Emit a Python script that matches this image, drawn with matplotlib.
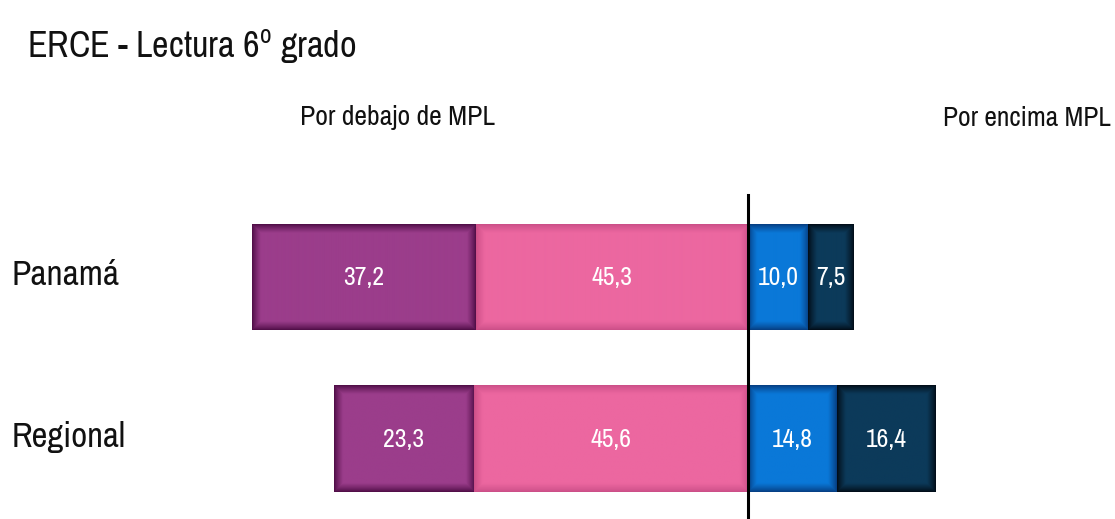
import matplotlib
matplotlib.use("Agg")
import matplotlib.pyplot as plt
from matplotlib import font_manager as fm
from matplotlib.colors import to_rgb
import numpy as np

# ---------------- data ----------------
categories = ["Panamá", "Regional"]
nivel1 = [37.2, 23.3]   # far left (dark purple)
nivel2 = [45.3, 45.6]   # near left (pink)
nivel3 = [10.0, 14.8]   # near right (blue)
nivel4 = [7.5, 16.4]    # far right (navy)
value_labels = [["37,2", "45,3", "10,0", "7,5"], ["23,3", "45,6", "14,8", "16,4"]]
title = r"ERCE - Lectura 6$^{\mathrm{o}}$ grado"
left_header = "Por debajo de MPL"
right_header = "Por encima MPL"

# ---------------- font choice ----------------
FONT = "Liberation Sans"
STRETCH = "normal"
for f in fm.fontManager.ttflist:
    if ("Narrow" in f.name or "Condensed" in f.name):
        FONT = f.name
        break
else:
    for f in fm.fontManager.ttflist:
        if f.name == "DejaVu Sans" and str(f.stretch) in ("condensed", "semi-condensed"):
            FONT = "DejaVu Sans"
            STRETCH = "condensed"
            break
plt.rcParams['font.family'] = [FONT, 'DejaVu Sans']
plt.rcParams['font.stretch'] = STRETCH
plt.rcParams['mathtext.fontset'] = 'custom'
plt.rcParams['mathtext.rm'] = FONT

W, H = 1115, 519
fig = plt.figure(figsize=(W / 100, H / 100), dpi=100)
ax = fig.add_axes([0, 0, 1, 1])
scale = 6.01
zero_px = 748
ax.set_xlim(-zero_px / scale, (W - zero_px) / scale)
row_px = [277, 439]
gap = row_px[1] - row_px[0]
ax.set_ylim((H - row_px[0]) / gap, -row_px[0] / gap)
ax.axis("off")
renderer = fig.canvas.get_renderer()


def fit(t, target_w, max_fs=60):
    t.set_fontsize(20)
    w = t.get_window_extent(renderer).width
    fs = min(20 * target_w / w, max_fs)
    t.set_fontsize(fs)
    return fs


centers = [("#9b3d8b", "#4a0a42"), ("#ec67a0", "#c94d86"),
           ("#0a78d8", "#063a7c"), ("#0c3a5a", "#010a14")]

y = np.arange(len(categories))
h = 106 / gap
n1 = np.array(nivel1); n2 = np.array(nivel2); n3 = np.array(nivel3); n4 = np.array(nivel4)
segs = [(-(n1 + n2), n1), (-n2, n2), (np.zeros_like(n3), n3), (n3, n4)]

probe = ax.text(0, 0, "37,2", fontweight="bold")
vfs = fit(probe, 41)
probe.remove()

for k, (left, width) in enumerate(segs):
    bars = ax.barh(y, width, left=left, height=h, color=centers[k][0], lw=0)
    c_in = np.array(to_rgb(centers[k][0]))
    c_out = np.array(to_rgb(centers[k][1]))
    for i, b in enumerate(bars):
        x0, y0 = b.get_x(), b.get_y()
        bw, bh = b.get_width(), b.get_height()
        nx = max(int(bw * scale), 2)
        ny = max(int(bh * gap), 2)
        px = np.arange(nx) + 0.5
        py = np.arange(ny) + 0.5
        dx = np.minimum(px, nx - px)
        dy = np.minimum(py, ny - py)
        d = np.minimum(dx[None, :], dy[:, None])
        tt = np.clip(d / 9.0, 0, 1) ** 0.8
        img = c_out[None, None, :] + (c_in - c_out)[None, None, :] * tt[:, :, None]
        ax.imshow(img, extent=(x0, x0 + bw, y0 + bh, y0), aspect="auto",
                  interpolation="bilinear", zorder=2)
        ax.text(x0 + bw / 2, y[i], value_labels[i][k], color="white",
                ha="center", va="center", fontsize=vfs, fontweight="bold", zorder=4)

ax.set_xlim(-zero_px / scale, (W - zero_px) / scale)
ax.set_ylim((H - row_px[0]) / gap, -row_px[0] / gap)
ax.plot([0, 0], [(195 - row_px[0]) / gap, 5], color="black", lw=2.2, zorder=5)

cat_w = [108, 114]
for i, c in enumerate(categories):
    t = fig.text(12 / W, 1 - (row_px[i] - 2) / H, c, ha="left", va="center",
                 color="#111111")
    fit(t, cat_w[i], 40)

t = fig.text(27 / W, 1 - 46 / H, title, ha="left", va="center", color="#111111")
fit(t, 330, 44)
t = fig.text(300 / W, 1 - 118 / H, left_header, ha="left", va="center", color="#111111")
fit(t, 195, 30)
t = fig.text(1111 / W, 1 - 118 / H, right_header, ha="right", va="center", color="#111111")
fit(t, 168, 30)

fig.savefig("out.png", dpi=100)
